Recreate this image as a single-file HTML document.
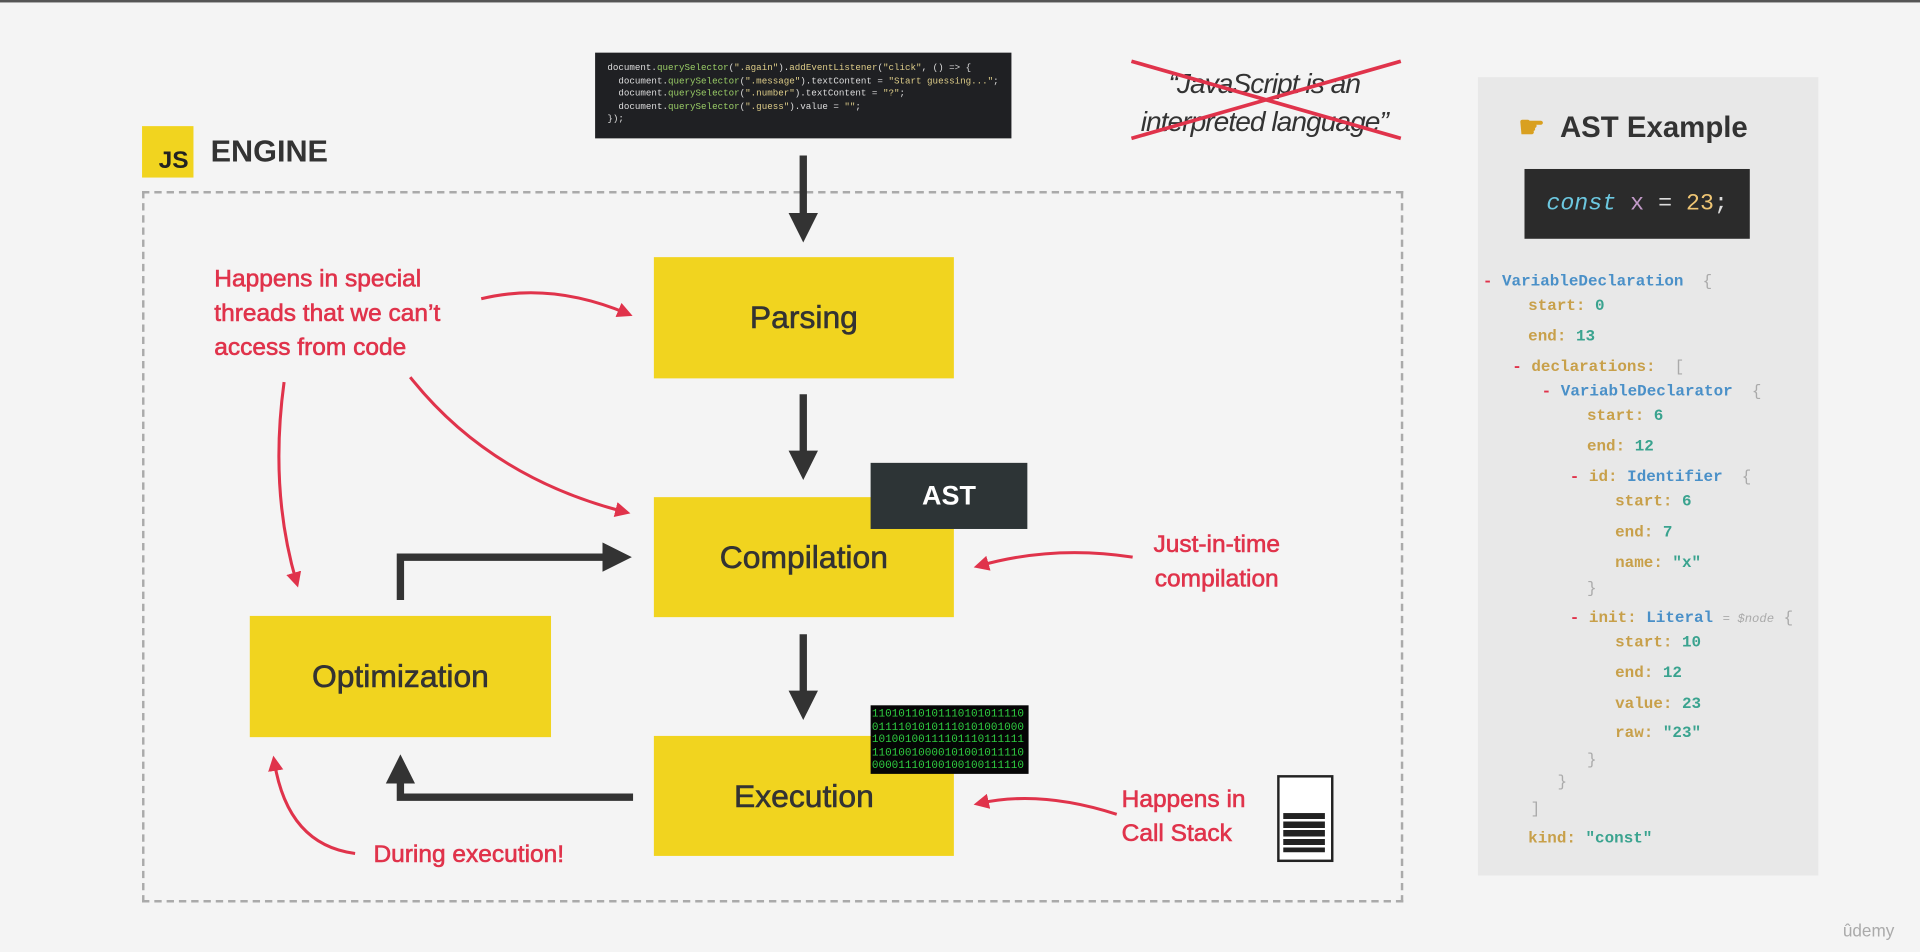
<!DOCTYPE html>
<html><head><meta charset="utf-8"><style>
html,body{margin:0;padding:0;width:1920px;height:952px;overflow:hidden;background:#f4f4f4}
#s{position:absolute;left:0;top:0;width:1568px;height:777px;transform:scale(1.22449);transform-origin:0 0;font-family:"Liberation Sans",sans-serif}
.a{position:absolute}
.y{position:absolute;background:#f1d41f;color:#333;font-size:26px;display:flex;align-items:center;justify-content:center;-webkit-text-stroke:0.5px #333}
.r{position:absolute;color:#e0334b;font-size:20px;line-height:28px;-webkit-text-stroke:0.5px #e0334b;white-space:nowrap}
.m{position:absolute;font-family:"Liberation Mono",monospace;font-weight:bold;font-size:13px;white-space:pre;color:#c8a04a}
.b{color:#4a90c8}.n{color:#3aa38f}.d{color:#e0334b}.g{color:#aaa;font-weight:normal}
</style></head><body><div id="s">
<div class="a" style="left:0;top:0;width:1568px;height:2px;background:#555"></div>
<div class="a" style="left:116px;top:103px;width:42px;height:42px;background:#f1d41f;font-weight:bold;font-size:20px;display:flex;align-items:flex-end;justify-content:flex-end;padding:0 4px 2px 0;box-sizing:border-box;color:#222">JS</div>
<div class="a" style="left:172px;top:110px;font-size:25px;font-weight:bold;color:#333">ENGINE</div>
<div class="a" style="left:116px;top:156px;width:1026px;height:577px;border:2px dashed #aaa"></div>
<div class="a" style="left:486px;top:43px;width:340px;height:70px;background:#1f2023;font-family:'Liberation Mono',monospace;font-size:7.5px;line-height:10.5px;color:#ddd;padding:8px 0 0 10px;box-sizing:border-box;white-space:pre">document.<span style="color:#9c6">querySelector</span>(<span style="color:#dc8">".again"</span>).<span style="color:#dc8">addEventListener</span>(<span style="color:#dc8">"click"</span>, () => {
  document.<span style="color:#9c6">querySelector</span>(<span style="color:#dc8">".message"</span>).textContent = <span style="color:#dc8">"Start guessing..."</span>;
  document.<span style="color:#9c6">querySelector</span>(<span style="color:#dc8">".number"</span>).textContent = <span style="color:#dc8">"?"</span>;
  document.<span style="color:#9c6">querySelector</span>(<span style="color:#dc8">".guess"</span>).value = <span style="color:#dc8">""</span>;
});</div>
<div class="a" style="left:900px;top:53px;width:265px;text-align:center;font-style:italic;font-size:23px;letter-spacing:-0.8px;line-height:31px;color:#333;white-space:nowrap">“JavaScript is an<br>interpreted language”</div>
<div class="a" style="left:1207px;top:63px;width:278px;height:652px;background:#e8e8e8"></div>
<div class="a" style="left:1240px;top:90px;font-size:24px;font-weight:bold;color:#333"><span style="color:#d9a020">☛</span>&nbsp; AST Example</div>
<div class="a" style="left:1245px;top:138px;width:184px;height:57px;background:#2b2b2b;font-family:'Liberation Mono',monospace;font-size:19px;line-height:57px;text-align:center;color:#ddd"><i style="color:#6cc8e0">const</i> <span style="color:#c39ac9">x</span> = <span style="color:#f0c674">23</span>;</div>
<div class="m" style="left:1211px;top:222px"><span class="d">-</span> <span class="b">VariableDeclaration</span>  <span class="g">{</span></div>
<div class="m" style="left:1248px;top:242px">start: <span class="n">0</span></div>
<div class="m" style="left:1248px;top:267px">end: <span class="n">13</span></div>
<div class="m" style="left:1235px;top:292px"><span class="d">-</span> declarations:  <span class="g">[</span></div>
<div class="m" style="left:1259px;top:312px"><span class="d">-</span> <span class="b">VariableDeclarator</span>  <span class="g">{</span></div>
<div class="m" style="left:1296px;top:332px">start: <span class="n">6</span></div>
<div class="m" style="left:1296px;top:357px">end: <span class="n">12</span></div>
<div class="m" style="left:1282px;top:382px"><span class="d">-</span> id: <span class="b">Identifier</span>  <span class="g">{</span></div>
<div class="m" style="left:1319px;top:402px">start: <span class="n">6</span></div>
<div class="m" style="left:1319px;top:427px">end: <span class="n">7</span></div>
<div class="m" style="left:1319px;top:452px">name: <span class="n">"x"</span></div>
<div class="m g" style="left:1296px;top:473px">}</div>
<div class="m" style="left:1282px;top:497px"><span class="d">-</span> init: <span class="b">Literal</span> <span class="g" style="font-size:10px;font-style:italic">= $node</span> <span class="g">{</span></div>
<div class="m" style="left:1319px;top:517px">start: <span class="n">10</span></div>
<div class="m" style="left:1319px;top:542px">end: <span class="n">12</span></div>
<div class="m" style="left:1319px;top:567px">value: <span class="n">23</span></div>
<div class="m" style="left:1319px;top:591px">raw: <span class="n">"23"</span></div>
<div class="m g" style="left:1296px;top:613px">}</div>
<div class="m g" style="left:1272px;top:631px">}</div>
<div class="m g" style="left:1250px;top:653px">]</div>
<div class="m" style="left:1248px;top:677px">kind: <span class="n">"const"</span></div>
<div class="y" style="left:534px;top:210px;width:245px;height:99px">Parsing</div>
<div class="y" style="left:534px;top:406px;width:245px;height:98px">Compilation</div>
<div class="y" style="left:534px;top:601px;width:245px;height:98px">Execution</div>
<div class="y" style="left:204px;top:503px;width:246px;height:99px">Optimization</div>
<div class="a" style="left:711px;top:378px;width:128px;height:54px;background:#2d3436;color:#fff;font-weight:bold;font-size:22px;line-height:54px;text-align:center">AST</div>
<div class="a" style="left:711px;top:576px;width:129px;height:56px;background:#050505;color:#2ecc40;font-family:'Liberation Mono',monospace;font-size:9px;line-height:10.5px;padding:2px 0 0 1px;box-sizing:border-box;white-space:pre;overflow:hidden">11010110101110101011110
01111010101110101001000
10100100111101110111111
11010010000101001011110
00001110100100100111110</div>
<div class="a" style="left:1043px;top:633px;width:42px;height:67px;border:2px solid #222;background:#fff"></div>
<div class="a" style="left:1048px;top:664px;width:34px;height:32px;background:repeating-linear-gradient(#222 0 5px,#fff 5px 7px)"></div>
<div class="r" style="left:175px;top:214px">Happens in special<br>threads that we can’t<br>access from code</div>
<div class="r" style="left:942px;top:431px;text-align:center">Just-in-time<br>compilation</div>
<div class="r" style="left:916px;top:639px">Happens in<br>Call Stack</div>
<div class="r" style="left:305px;top:684px">During execution!</div>
<div class="a" style="left:1505px;top:752px;color:#aaa;font-size:14px">ûdemy</div>
<svg class="a" style="left:0;top:0" width="1568" height="777">
<defs>
<marker id="k" markerWidth="4" markerHeight="4" refX="2" refY="2" orient="auto" markerUnits="strokeWidth"><path d="M0,0L4,2L0,4z" fill="#333"/></marker>
<marker id="rr" markerWidth="5" markerHeight="5" refX="3" refY="2.5" orient="auto" markerUnits="strokeWidth"><path d="M0,0L5,2.5L0,5z" fill="#e0334b"/></marker>
</defs>
<g stroke="#e0334b" stroke-width="3" fill="none">
<line x1="924" y1="50" x2="1144" y2="113"/><line x1="924" y1="113" x2="1144" y2="50"/>
</g>
<g stroke="#333" stroke-width="6" fill="none" marker-end="url(#k)">
<line x1="656" y1="127" x2="656" y2="186"/>
<line x1="656" y1="322" x2="656" y2="380"/>
<line x1="656" y1="518" x2="656" y2="576"/>
<path d="M327,490V455H504"/>
<path d="M517,651H327V628"/>
</g>
<g stroke="#e0334b" stroke-width="2.5" fill="none" marker-end="url(#rr)">
<path d="M393,244Q450,230 512,256"/>
<path d="M335,308Q400,390 510,418"/>
<path d="M232,312Q220,400 242,475"/>
<path d="M925,455Q860,445 800,462"/>
<path d="M912,665Q850,645 800,656"/>
<path d="M290,697Q235,690 224,622"/>
</g>
</svg>
</div></body></html>
